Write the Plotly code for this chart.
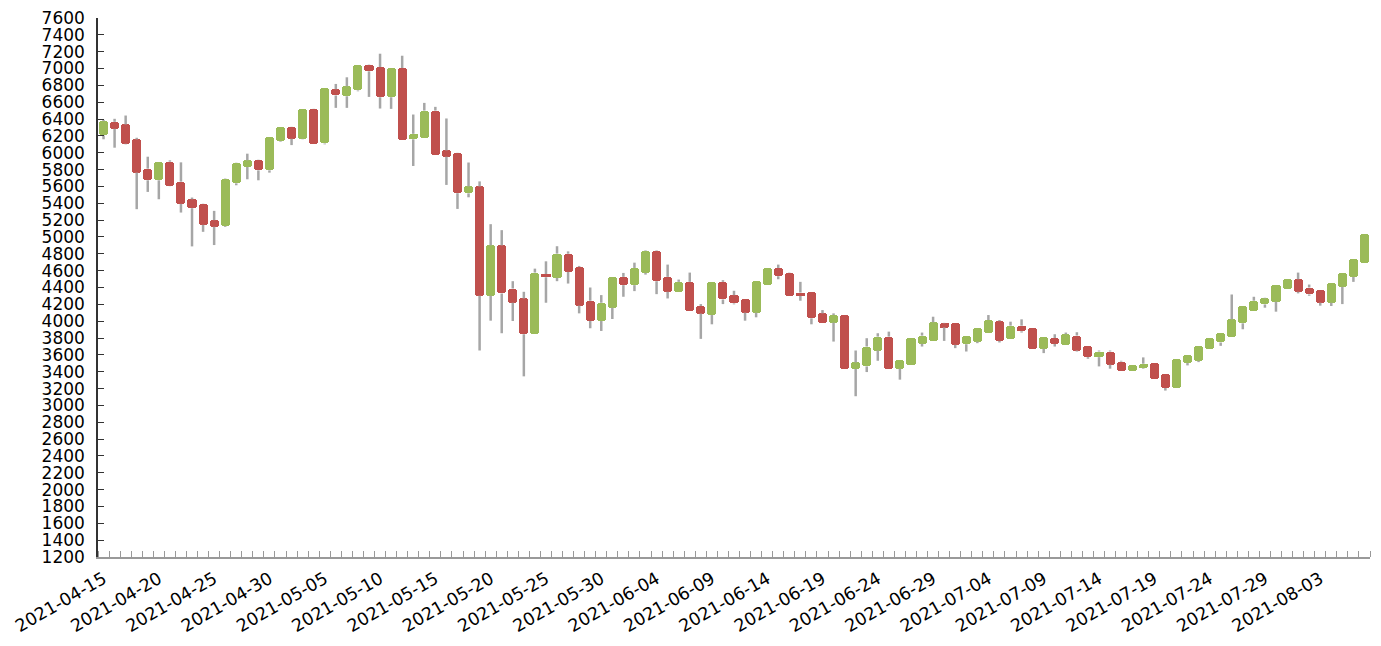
import pandas as pd
import plotly.graph_objects as go

dates = pd.date_range("2021-04-15", "2021-08-07", freq="D").strftime("%Y-%m-%d").tolist()

open_ = [6205, 6367, 6336, 6158, 5811, 5673, 5894, 5657, 5448, 5397,
         5200, 5130, 5637, 5831, 5917, 5791, 6138, 6308, 6166, 6525,
         6110, 6755, 6671, 6740, 7046, 7018, 6659, 7006, 6160, 6170,
         6501, 6028, 6000, 5518, 5600, 4302, 4900, 4388, 4270, 3845,
         4560, 4514, 4801, 4644, 4243, 4002, 4160, 4526, 4428, 4573,
         4833, 4526, 4349, 4467, 4180, 4073, 4467, 4309, 4258, 4101,
         4428, 4632, 4573, 4340, 4349, 4093, 3983, 4073, 3432, 3463,
         3652, 3817, 3436, 3483, 3731, 3770, 3975, 3975, 3727, 3758,
         3857, 4000, 3790, 3947, 3916, 3672, 3800, 3719, 3830, 3711,
         3573, 3640, 3520, 3404, 3440, 3502, 3373, 3207, 3503, 3530,
         3668, 3747, 3810, 3975, 4124, 4199, 4231, 4380, 4498, 4400,
         4368, 4219, 4408, 4526, 4695]
high = [6390, 6403, 6442, 6178, 5953, 5894, 5910, 5886, 5468, 5400,
        5310, 5695, 5885, 5989, 5920, 6190, 6308, 6310, 6525, 6527,
        6770, 6817, 6896, 7046, 7050, 7176, 7006, 7152, 6454, 6592,
        6545, 6407, 6002, 5884, 5660, 5152, 5081, 4475, 4349, 4624,
        4711, 4890, 4829, 4656, 4400, 4310, 4526, 4573, 4695, 4840,
        4840, 4672, 4494, 4577, 4203, 4467, 4487, 4361, 4258, 4479,
        4632, 4672, 4577, 4467, 4349, 4132, 4093, 4073, 3652, 3798,
        3857, 3876, 3542, 3798, 3865, 4053, 3980, 3975, 3825, 3924,
        4073, 4014, 3994, 4022, 3916, 3817, 3845, 3865, 3869, 3711,
        3652, 3652, 3530, 3483, 3570, 3502, 3373, 3550, 3593, 3711,
        3798, 3857, 4317, 4180, 4290, 4278, 4428, 4498, 4577, 4435,
        4368, 4459, 4577, 4742, 5030]
low = [6160, 6060, 6100, 5330, 5535, 5448, 5600, 5290, 4888, 5061,
       4904, 5120, 5614, 5685, 5673, 5764, 6130, 6091, 6160, 6099,
       6100, 6533, 6533, 6730, 6663, 6525, 6521, 6150, 5843, 6170,
       5972, 5618, 5333, 5471, 3652, 4006, 3857, 4002, 3345, 3845,
       4219, 4475, 4447, 4093, 3916, 3884, 4026, 4290, 4357, 4553,
       4321, 4270, 4349, 4124, 3790, 3963, 4203, 4200, 4006, 4046,
       4428, 4498, 4302, 4243, 3963, 3975, 3758, 3432, 3109, 3396,
       3530, 3436, 3306, 3483, 3699, 3770, 3766, 3680, 3640, 3739,
       3857, 3747, 3790, 3865, 3668, 3621, 3699, 3719, 3640, 3554,
       3463, 3436, 3404, 3404, 3432, 3317, 3176, 3207, 3475, 3514,
       3668, 3707, 3810, 3904, 4124, 4160, 4113, 4380, 4330, 4302,
       4184, 4180, 4203, 4467, 4695]
close = [6375, 6284, 6107, 5764, 5673, 5894, 5602, 5393, 5342, 5144,
         5121, 5690, 5882, 5910, 5791, 6190, 6308, 6166, 6525, 6099,
         6770, 6680, 6789, 7046, 6967, 6659, 7006, 6150, 6225, 6501,
         5972, 5953, 5520, 5600, 4302, 4900, 4329, 4219, 3845, 4577,
         4522, 4802, 4585, 4184, 4002, 4219, 4526, 4428, 4632, 4833,
         4475, 4349, 4467, 4124, 4090, 4467, 4258, 4211, 4101, 4479,
         4632, 4534, 4302, 4300, 4034, 3975, 4073, 3432, 3510, 3699,
         3817, 3436, 3542, 3798, 3829, 3987, 3925, 3719, 3825, 3924,
         4014, 3766, 3947, 3880, 3668, 3817, 3730, 3845, 3652, 3573,
         3640, 3483, 3404, 3483, 3495, 3317, 3207, 3550, 3593, 3711,
         3798, 3857, 4022, 4180, 4243, 4270, 4428, 4498, 4349, 4317,
         4219, 4459, 4577, 4742, 5030]

tick_dates = dates[::5]

UP = "#9BBB59"
DOWN = "#C0504D"
WICK = "#A6A6A6"
FONT = "DejaVu Sans"

base = [min(o, c) for o, c in zip(open_, close)]
top = [max(o, c) for o, c in zip(open_, close)]
height = [t - b for t, b in zip(top, base)]
colors = [UP if c >= o else DOWN for o, c in zip(open_, close)]

# wick segments kept outside of the bodies (bars are drawn below scatter lines)
wick_x, wick_y = [], []
for d, h, l, b, t in zip(dates, high, low, base, top):
    if l < b:
        wick_x += [d, d, None]
        wick_y += [l, b, None]
    if h > t:
        wick_x += [d, d, None]
        wick_y += [t, h, None]

fig = go.Figure()
fig.add_trace(go.Bar(x=dates, y=height, base=base,
                     width=0.82 * 86400000,
                     marker=dict(color=colors, line=dict(width=0), cornerradius=3),
                     showlegend=False))
fig.add_trace(go.Scatter(x=wick_x, y=wick_y, mode="lines",
                         line=dict(color=WICK, width=2.5), hoverinfo="skip",
                         showlegend=False))

start = pd.Timestamp(dates[0]) - pd.Timedelta(hours=12)
end = pd.Timestamp(dates[-1]) + pd.Timedelta(hours=12)

fig.update_layout(
    width=1365, height=630,
    margin=dict(l=90, r=3, t=10, b=81),
    plot_bgcolor="white", paper_bgcolor="white",
    font=dict(family=FONT, size=17, color="black"),
    bargap=0, showlegend=False,
)
fig.update_xaxes(
    type="date", range=[start, end], automargin=False,
    tickvals=tick_dates, ticktext=tick_dates, tickangle=-30,
    ticks="", showgrid=False, zeroline=False,
    showline=True, linecolor="#999999", linewidth=2,
    minor=dict(ticks="inside", ticklen=6, tickcolor="#999999", tickwidth=1,
               dtick=86400000, tick0=start.strftime("%Y-%m-%d %H:%M"), showgrid=False),
    tickfont=dict(family=FONT, size=17.5, color="black"),
    ticklabelstandoff=3, ticklabeloverflow="allow",
)
fig.update_yaxes(
    range=[1200, 7600], dtick=200, tick0=1200, automargin=False,
    ticks="inside", ticklen=6, tickcolor="#333333",
    showline=True, linecolor="#333333", linewidth=1.5,
    showgrid=False, zeroline=False, ticklabelstandoff=8,
    ticklabeloverflow="allow",
    tickfont=dict(family=FONT, size=17, color="black"),
)

fig.write_html("out.html")
